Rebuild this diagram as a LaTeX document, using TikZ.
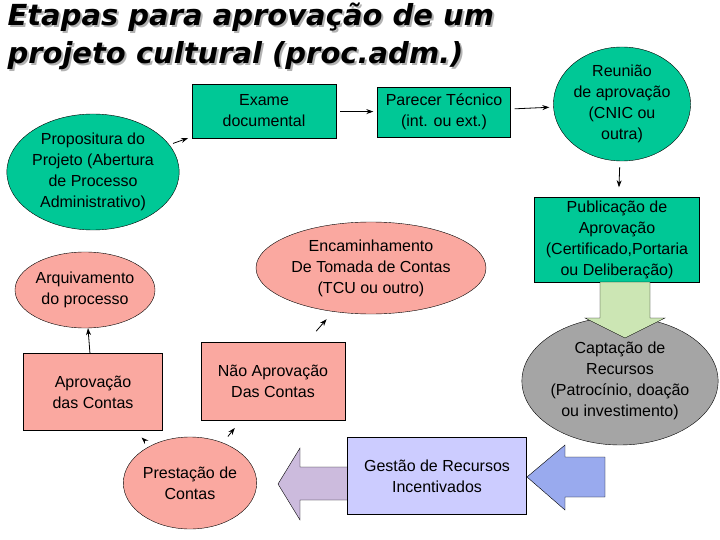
\documentclass[tikz,border=0pt]{standalone}
\usepackage{fontspec}
\setmainfont{Liberation Sans}
\newfontfamily\titlefont{DejaVu Sans}
\usetikzlibrary{shapes.geometric, arrows.meta, positioning}
\definecolor{Teal}{RGB}{0, 200, 150}
\definecolor{Rosa}{RGB}{250, 168, 160}
\definecolor{Cinza}{RGB}{165, 165, 165}
\definecolor{Lilas}{RGB}{204, 204, 255}
\definecolor{Verde}{RGB}{204, 230, 180}
\definecolor{Azul}{RGB}{153, 170, 238}
\definecolor{Roxo}{RGB}{204, 187, 221}
\tikzset{
    caixa/.style = {draw=black, align=center, inner sep=2pt},
    elipse/.style = {draw=black, ellipse, align=center, inner sep=0pt},
    seta/.style = {thick, arrows = {-Stealth[length=7pt, width=5pt]}, shorten >=4pt, shorten <=4pt},
    setona/.style = {draw=black}
}
\begin{document}
\begin{tikzpicture}[
        x=1pt, y=-1pt,
        font=\fontsize{16}{21}\selectfont,
    ]
    \useasboundingbox (0,0) rectangle (720,540);

    % title
    \node[anchor=north west, align=left, text=gray!60, font=\titlefont\fontsize{29}{38}\selectfont\bfseries\itshape] at (6,1) {Etapas para aprovação de um\\projeto cultural (proc.adm.)};
    \node[anchor=north west, align=left, font=\titlefont\fontsize{29}{38}\selectfont\bfseries\itshape] (titulo) at (4,-1) {Etapas para aprovação de um\\projeto cultural (proc.adm.)};

    % nodes
    \node[elipse, fill=Teal, minimum width=162, minimum height=116] (prop) at (93,172) {Propositura do\\Projeto (Abertura\\de Processo\\Administrativo)};
    \node[caixa, fill=Teal, minimum width=144, minimum height=54] (exame) at (264,111) {Exame\\documental};
    \node[caixa, fill=Teal, minimum width=133, minimum height=50] (parecer) at (444,112) {Parecer Técnico\\(int. ou ext.)};
    \node[elipse, fill=Teal, minimum width=118, minimum height=114] (reuniao) at (622,104) {Reunião\\de aprovação\\(CNIC ou\\outra)};
    \node[caixa, fill=Teal, minimum width=165, minimum height=85] (public) at (617,240) {Publicação de\\Aprovação\\(Certificado,Portaria\\ou Deliberação)};
    \node[elipse, fill=Cinza, minimum width=128, minimum height=128] (captacao) at (620,381) {Captação de\\Recursos\\(Patrocínio, doação\\ou investimento)};
    \node[elipse, fill=Rosa, minimum width=116, minimum height=92] (prestacao) at (190,483) {Prestação de\\Contas};
    \node[caixa, fill=Rosa, minimum width=139, minimum height=77] (aprov) at (93,392) {Aprovação\\das Contas};
    \node[caixa, fill=Rosa, minimum width=144, minimum height=78] (naoaprov) at (273,381) {Não Aprovação\\Das Contas};
    \node[elipse, fill=Rosa, minimum width=140, minimum height=76] (arquivo) at (85,290) {Arquivamento\\do processo};
    \node[elipse, fill=Rosa, minimum width=230, minimum height=92] (encam) at (371,268) {Encaminhamento\\De Tomada de Contas\\(TCU ou outro)};

    % block arrows
    \draw[setona, fill=Verde] (600,282) -- (650,282) -- (650,318) -- (665,318) -- (625,338) -- (585,318) -- (600,318) -- cycle;
    \draw[setona, fill=Azul] (605,457) -- (565,457) -- (565,445) -- (527,477) -- (565,510) -- (565,497) -- (605,497) -- cycle;
    \draw[setona, fill=Roxo] (350,467) -- (300,467) -- (300,448) -- (278,484) -- (300,520) -- (300,500) -- (350,500) -- cycle;
    \node[caixa, fill=Lilas, minimum width=179, minimum height=77] (gestao) at (437,476) {Gestão de Recursos\\Incentivados};

    % connectors
    \draw[seta] (prop) -- (exame);
    \draw[seta] (exame) -- (parecer);
    \draw[seta] (parecer) -- (reuniao);
    \draw[seta, shorten <=6pt, shorten >=10pt] (reuniao) -- (public);
    \draw[seta, shorten <=8pt, shorten >=10pt] (prestacao) -- (aprov);
    \draw[seta, shorten <=8pt, shorten >=10pt] (prestacao) -- (naoaprov);
    \draw[seta, shorten <=0pt, shorten >=0pt] (aprov) -- (arquivo);
    \draw[seta, shorten <=14pt, shorten >=10pt] (naoaprov) -- (encam);

\end{tikzpicture}
\end{document}
